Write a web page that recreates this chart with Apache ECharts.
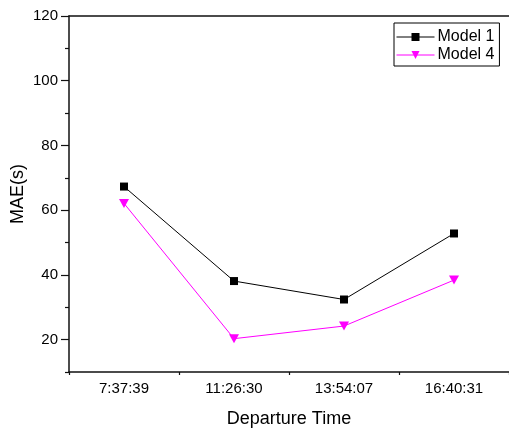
<!DOCTYPE html>
<html><head><meta charset="utf-8">
<script src="https://cdn.jsdelivr.net/npm/echarts@6/dist/echarts.min.js"></script>
<style>html,body{margin:0;padding:0;background:#fff}#c{width:509px;height:430px}</style>
</head><body><div id="c"></div>
<script>
const categories = ['7:37:39', '11:26:30', '13:54:07', '16:40:31'];
const model1 = [67.3, 38.1, 32.4, 52.8];
const model4 = [62.1, 20.3, 24.2, 38.4];
const yMajorTicks = [20, 40, 60, 80, 100, 120];
const yMinorTicks = [10, 30, 50, 70, 90, 110];

const font = 'Liberation Sans, Arial, sans-serif';
const axisColor = '#111';
const chart = echarts.init(document.getElementById('c'));
chart.setOption({
  animation: false,
  backgroundColor: '#fff',
  grid: { left: 69, top: 16, right: 0, bottom: 58, containLabel: false, outerBoundsMode: 'none' },
  legend: {
    orient: 'vertical', left: 394, top: 23,
    borderColor: '#000', borderWidth: 1,
    padding: [6, 5, 3, 2],
    itemWidth: 38, itemHeight: 10, itemGap: 2,
    lineStyle: { width: 1 },
    textStyle: { fontFamily: font, fontSize: 16, color: '#000', padding: [0, 0, 0, -2] },
    data: ['Model 1', 'Model 4']
  },
  xAxis: [
    {
      type: 'category', data: categories, position: 'bottom', boundaryGap: true,
      name: 'Departure Time', nameLocation: 'middle', nameGap: 38, nameMoveOverlap: false,
      nameTextStyle: { fontFamily: font, fontSize: 18, color: '#000' },
      axisLine: { lineStyle: { color: axisColor, width: 1.5 } },
      axisTick: { alignWithLabel: true, length: 7, lineStyle: { color: axisColor, width: 1.2 } },
      axisLabel: { fontFamily: font, fontSize: 15, color: '#000', margin: 9 },
      splitLine: { show: false }
    },
    {
      type: 'category', data: categories, position: 'bottom', boundaryGap: true,
      axisLine: { show: false },
      axisTick: { show: true, length: 3, lineStyle: { color: axisColor, width: 1.2 } },
      axisLabel: { show: false }, splitLine: { show: false }
    },
    {
      type: 'category', data: categories, position: 'top',
      axisLine: { lineStyle: { color: axisColor, width: 1.5 } },
      axisTick: { show: false }, axisLabel: { show: false }, splitLine: { show: false }
    }
  ],
  yAxis: [
    {
      type: 'value', min: 10, max: 120,
      name: 'MAE(s)', nameLocation: 'middle', nameGap: 42, nameMoveOverlap: false,
      nameTextStyle: { fontFamily: font, fontSize: 18, color: '#000' },
      axisLine: { show: true, lineStyle: { color: axisColor, width: 1.5 } },
      axisTick: { show: true, length: 8, customValues: yMajorTicks, lineStyle: { color: axisColor, width: 1.2 } },
      axisLabel: { fontFamily: font, fontSize: 15, color: '#000', margin: 11, customValues: yMajorTicks },
      splitLine: { show: false }
    },
    {
      type: 'value', min: 10, max: 120, position: 'left',
      axisLine: { show: false },
      axisTick: { show: true, length: 4, customValues: yMinorTicks, lineStyle: { color: axisColor, width: 1.2 } },
      axisLabel: { show: false, customValues: yMinorTicks },
      splitLine: { show: false }
    }
  ],
  series: [
    {
      name: 'Model 1', type: 'line', data: model1, xAxisIndex: 0, yAxisIndex: 0,
      symbol: 'rect', symbolSize: 8,
      lineStyle: { color: '#000', width: 1 },
      itemStyle: { color: '#000' }
    },
    {
      name: 'Model 4', type: 'line', data: model4, xAxisIndex: 0, yAxisIndex: 0,
      symbol: 'triangle', symbolRotate: 180, symbolSize: [10, 9],
      lineStyle: { color: '#ff00ff', width: 1 },
      itemStyle: { color: '#ff00ff' }
    }
  ]
});
</script></body></html>
